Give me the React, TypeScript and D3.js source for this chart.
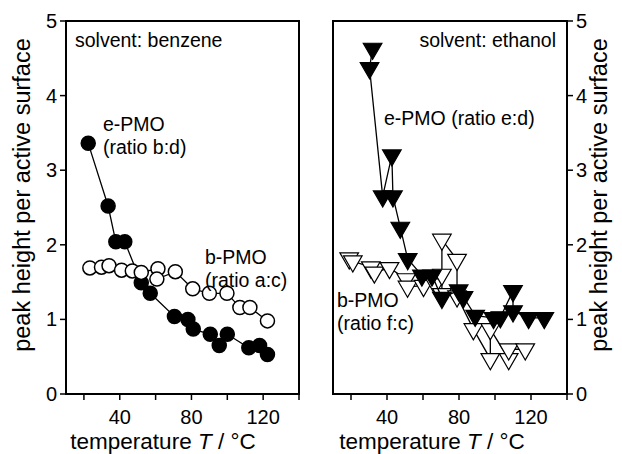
import * as d3 from 'd3';

// left panel: benzene
const benzeneE = [
  [22.4, 3.36], [33.5, 2.52], [37.8, 2.04], [42.8, 2.04], [52, 1.49], [57, 1.35],
  [70.5, 1.04], [78, 1.0], [81, 0.87], [90.5, 0.8], [95.5, 0.65], [100, 0.8],
  [112, 0.62], [118, 0.65], [122.4, 0.53],
];
const benzeneB = [
  [23.3, 1.69], [29.8, 1.7], [34, 1.72], [41, 1.66], [47, 1.65], [52, 1.63],
  [61.3, 1.68], [60.7, 1.54], [71, 1.64], [80.7, 1.41], [90, 1.35], [99.8, 1.35],
  [107, 1.16], [112.6, 1.16], [122.4, 0.98],
];

// right panel: ethanol
const ethanolE = [
  [32, 4.63], [30.3, 4.37], [37.6, 2.65], [42.7, 3.2], [43.3, 2.65], [47.4, 2.23],
  [51.5, 1.81], [59.4, 1.59], [65, 1.59], [70.5, 1.29], [79.8, 1.39], [82.5, 1.3],
  [89, 1.05], [99.2, 1.02], [103, 1.03], [110, 1.38], [110, 1.11], [118.7, 1.02],
  [127.4, 1.02],
];
const ethanolB = [
  [19, 1.82], [21, 1.78], [31, 1.7], [33, 1.63], [41.4, 1.69], [50.7, 1.54],
  [51.4, 1.44], [60.3, 1.45], [66.8, 1.47], [70.5, 1.34], [70.5, 1.6], [70.5, 2.07],
  [78.9, 1.8], [78.9, 1.31], [88, 0.87], [97.4, 0.47], [97.4, 0.87], [107.6, 0.47],
  [107.6, 0.6], [116.8, 0.6],
];

const xTicks = [20, 40, 60, 80, 100, 120, 140];
const xLabels = [40, 80, 120];
const yTicks = [0, 1, 2, 3, 4, 5];

const font = 'Arial, "Liberation Sans", sans-serif';

const y = d3.scaleLinear().domain([0, 5]).range([394, 21]);
const xL = d3.scaleLinear().domain([10, 140]).range([66, 299]);
const xR = d3.scaleLinear().domain([10, 140]).range([333, 567]);

const tri = d3.symbol(d3.symbolTriangle, 150)();

function Panel({ x, side, titleX }) {
  const [x0, x1] = x.range();
  const yAxisX = side === 'left' ? x0 : x1;
  const dir = side === 'left' ? -1 : 1;
  return (
    <g>
      <rect x={x0} y={y(5)} width={x1 - x0} height={y(0) - y(5)} fill="none" stroke="#000" strokeWidth={2} />
      {xTicks.map(t => (
        <line key={t} x1={x(t)} x2={x(t)} y1={y(0)} y2={y(0) + 6} stroke="#000" strokeWidth={1.5} />
      ))}
      {xLabels.map(t => (
        <text key={t} x={x(t)} y={y(0) + 30} textAnchor="middle" fontSize={20} fontFamily={font}>{t}</text>
      ))}
      {yTicks.map(t => (
        <g key={t}>
          <line x1={yAxisX} x2={yAxisX + dir * 6} y1={y(t)} y2={y(t)} stroke="#000" strokeWidth={1.5} />
          <text x={yAxisX + dir * 9} y={y(t) + 7} textAnchor={side === 'left' ? 'end' : 'start'} fontSize={20} fontFamily={font}>{t}</text>
        </g>
      ))}
      <text x={titleX} y={449} textAnchor="middle" fontSize={22.5} fontFamily={font}>
        temperature <tspan fontStyle="italic">T</tspan> / °C
      </text>
    </g>
  );
}

function Series({ data, x, filled, shape }) {
  const line = d3.line().x(d => x(d[0])).y(d => y(d[1]));
  return (
    <g>
      <path d={line(data)} fill="none" stroke="#000" strokeWidth={1.3} />
      {data.map((d, i) =>
        shape === 'circle' ? (
          <circle key={i} cx={x(d[0])} cy={y(d[1])} r={7} fill={filled ? '#000' : '#fff'} stroke="#000" strokeWidth={1.5} />
        ) : (
          <path key={i} d={tri} transform={`translate(${x(d[0])},${y(d[1])}) rotate(180)`} fill={filled ? '#000' : '#fff'} stroke="#000" strokeWidth={1.2} />
        )
      )}
    </g>
  );
}

export default function App() {
  return (
    <svg width={622} height={454} style={{ position: 'absolute', left: 0, top: 0, background: '#fff' }}>
      <Panel x={xL} side="left" titleX={163} />
      <Panel x={xR} side="right" titleX={432} />

      <text transform="translate(30,195) rotate(-90)" textAnchor="middle" fontSize={23.5} fontFamily={font}>peak height per active surface</text>
      <text transform="translate(607,195) rotate(-90)" textAnchor="middle" fontSize={23.5} fontFamily={font}>peak height per active surface</text>

      <Series data={benzeneE} x={xL} filled shape="circle" />
      <Series data={benzeneB} x={xL} filled={false} shape="circle" />
      <Series data={ethanolB} x={xR} filled={false} shape="triangle" />
      <Series data={ethanolE} x={xR} filled shape="triangle" />

      <g fontSize={19.5} fontFamily={font}>
        <text x={75} y={47}>solvent: benzene</text>
        <text x={103} y={131}>e-PMO</text>
        <text x={103} y={154}>(ratio b:d)</text>
        <text x={205} y={264}>b-PMO</text>
        <text x={205} y={287}>(ratio a:c)</text>
        <text x={556} y={47} textAnchor="end">solvent: ethanol</text>
        <text x={384} y={125}>e-PMO (ratio e:d)</text>
        <text x={337} y={307}>b-PMO</text>
        <text x={337} y={330}>(ratio f:c)</text>
      </g>
    </svg>
  );
}
